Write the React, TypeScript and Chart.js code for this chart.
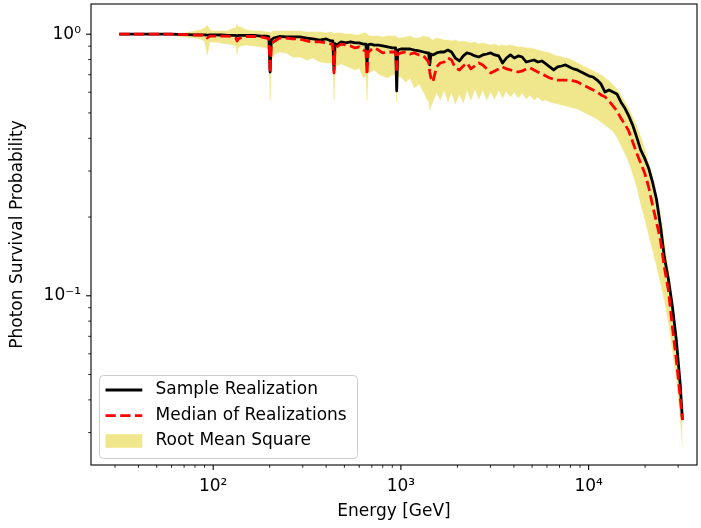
import React, { useEffect, useRef } from 'react';
import { Chart, registerables } from 'chart.js';

Chart.register(...registerables);

// Energy grid [GeV]
const energy = [
  31.6, 40, 50, 60, 70, 80, 85, 90, 93, 96,
  100, 110, 120, 128, 132, 134, 136, 140, 150, 165, 180, 192,
  198, 201, 204, 210, 225, 245, 265, 290, 315, 340, 370, 400,
  425, 434, 440, 446, 455, 480, 510, 540, 570, 600, 630, 651, 660, 669,
  690, 720, 760, 800, 850, 900, 938, 950, 962, 1000, 1060, 1120,
  1180, 1250, 1320, 1380, 1405, 1425, 1445, 1480, 1550, 1620, 1700, 1780,
  1860, 1950, 2050, 2150, 2250, 2360, 2480, 2600, 2730, 2870,
  3010, 3160, 3320, 3480, 3650, 3830, 4020, 4220, 4430, 4650,
  4880, 5120, 5370, 5640, 5920, 6210, 6520, 6840, 7180, 7540,
  7910, 8300, 8710, 9140, 9590, 10070, 10570, 11100, 11650, 12230,
  12840, 13480, 14150, 14850, 15590, 16370, 17180, 18040, 18940, 19880,
  20870, 21910, 23000, 24150, 25350, 26610, 27940, 29330, 30790, 31620,
];

const sampleRealization = [
  1.0, 1.0, 1.0, 1.0, 0.997, 0.995, 0.995, 0.995, 0.992, 0.995,
  0.995, 0.993, 0.99, 0.99, 0.99, 0.984, 0.99, 0.99, 0.99, 0.99, 0.984, 0.984,
  0.98, 0.717, 0.95, 0.967, 0.98, 0.976, 0.976, 0.976, 0.967, 0.959, 0.95, 0.959,
  0.942, 0.942, 0.73, 0.92, 0.909, 0.934, 0.926, 0.934, 0.926, 0.926, 0.917, 0.917, 0.763, 0.91,
  0.917, 0.909, 0.909, 0.902, 0.894, 0.886, 0.886, 0.607, 0.87, 0.878, 0.878, 0.878,
  0.87, 0.863, 0.855, 0.848, 0.848, 0.763, 0.84, 0.833, 0.848, 0.855, 0.855, 0.87,
  0.855, 0.811, 0.79, 0.826, 0.848, 0.84, 0.826, 0.818, 0.833, 0.84,
  0.848, 0.833, 0.826, 0.776, 0.811, 0.833, 0.811, 0.826, 0.818, 0.783,
  0.79, 0.797, 0.783, 0.79, 0.77, 0.75, 0.73, 0.75, 0.756, 0.763,
  0.75, 0.737, 0.73, 0.717, 0.705, 0.692, 0.686, 0.668, 0.645, 0.601,
  0.612, 0.601, 0.591, 0.551, 0.522, 0.487, 0.449, 0.404, 0.361, 0.336,
  0.308, 0.272, 0.234, 0.185, 0.14, 0.116, 0.0913, 0.0678, 0.0456, 0.0335,
];

const medianRealizations = [
  1.0, 1.0, 1.0, 1.0, 0.997, 0.993, 0.993, 0.99, 0.967, 0.984,
  0.984, 0.984, 0.984, 0.976, 0.967, 0.942, 0.96, 0.967, 0.98, 0.98, 0.976, 0.967,
  0.96, 0.711, 0.92, 0.934, 0.967, 0.967, 0.959, 0.959, 0.942, 0.934, 0.934, 0.926,
  0.917, 0.917, 0.711, 0.88, 0.894, 0.917, 0.909, 0.902, 0.886, 0.894, 0.87, 0.86, 0.699, 0.85,
  0.87, 0.886, 0.87, 0.848, 0.855, 0.855, 0.855, 0.711, 0.84, 0.848, 0.855, 0.84,
  0.848, 0.833, 0.826, 0.797, 0.78, 0.717, 0.68, 0.657, 0.75, 0.776, 0.783, 0.811,
  0.797, 0.743, 0.73, 0.756, 0.776, 0.737, 0.756, 0.776, 0.763, 0.737,
  0.711, 0.724, 0.737, 0.75, 0.737, 0.73, 0.724, 0.717, 0.724, 0.737,
  0.743, 0.73, 0.717, 0.705, 0.692, 0.68, 0.674, 0.668, 0.668, 0.668,
  0.668, 0.663, 0.657, 0.645, 0.634, 0.623, 0.612, 0.601, 0.586, 0.576,
  0.556, 0.532, 0.509, 0.478, 0.453, 0.426, 0.387, 0.351, 0.322, 0.295,
  0.261, 0.222, 0.191, 0.163, 0.128, 0.105, 0.076, 0.0568, 0.0407, 0.0335,
];

const rmsUpper = [
  1.0, 1.0, 1.002, 1.006, 1.011, 1.029, 1.038, 1.056, 1.084, 1.038,
  1.029, 1.029, 1.029, 1.056, 1.056, 1.094, 1.065, 1.065, 1.038, 1.029, 1.029, 1.02,
  1.02, 1.011, 1.02, 1.029, 1.029, 1.029, 1.029, 1.029, 1.02, 1.02, 1.02, 1.011,
  1.02, 1.011, 1.002, 1.011, 1.011, 1.011, 1.002, 1.002, 0.993, 0.993, 1.011, 1.011, 1.002, 0.99,
  0.984, 0.984, 0.984, 0.976, 0.984, 0.984, 0.984, 0.976, 0.967, 0.967, 0.976, 0.984,
  0.967, 0.967, 0.984, 0.976, 0.976, 0.967, 0.959, 0.95, 0.967, 0.959, 0.95, 0.95,
  0.942, 0.95, 0.934, 0.942, 0.934, 0.926, 0.934, 0.917, 0.926, 0.917,
  0.909, 0.917, 0.902, 0.909, 0.902, 0.909, 0.902, 0.894, 0.894, 0.886,
  0.886, 0.878, 0.87, 0.863, 0.855, 0.848, 0.833, 0.826, 0.818, 0.811,
  0.804, 0.79, 0.776, 0.763, 0.75, 0.737, 0.724, 0.711, 0.699, 0.68,
  0.663, 0.64, 0.618, 0.586, 0.551, 0.518, 0.482, 0.445, 0.405, 0.367,
  0.322, 0.282, 0.243, 0.204, 0.159, 0.1255, 0.0964, 0.0708, 0.0477, 0.0356,
];

const rmsLower = [
  1.0, 1.0, 0.996, 0.99, 0.976, 0.967, 0.959, 0.942, 0.833, 0.934,
  0.934, 0.926, 0.917, 0.909, 0.9, 0.84, 0.89, 0.902, 0.909, 0.902, 0.894, 0.886,
  0.87, 0.56, 0.8, 0.833, 0.855, 0.848, 0.818, 0.818, 0.797, 0.811, 0.783, 0.776,
  0.776, 0.776, 0.56, 0.75, 0.756, 0.77, 0.756, 0.743, 0.73, 0.743, 0.68, 0.7, 0.56, 0.72,
  0.717, 0.73, 0.705, 0.692, 0.68, 0.699, 0.699, 0.551, 0.686, 0.686, 0.657, 0.68,
  0.623, 0.645, 0.601, 0.56, 0.56, 0.513, 0.53, 0.551, 0.601, 0.56, 0.612, 0.551,
  0.601, 0.541, 0.591, 0.546, 0.612, 0.56, 0.618, 0.565, 0.612, 0.56,
  0.601, 0.565, 0.612, 0.57, 0.607, 0.576, 0.601, 0.57, 0.596, 0.565,
  0.586, 0.56, 0.576, 0.556, 0.56, 0.551, 0.546, 0.541, 0.536, 0.532,
  0.527, 0.522, 0.518, 0.509, 0.5, 0.491, 0.482, 0.474, 0.461, 0.449,
  0.438, 0.426, 0.404, 0.377, 0.351, 0.325, 0.293, 0.261, 0.226, 0.198,
  0.172, 0.15, 0.13, 0.112, 0.0964, 0.0794, 0.0621, 0.0484, 0.034, 0.0264,
];

const xMajorTicks = [100, 1000, 10000];
const xMajorLabels = ['10²', '10³', '10⁴'];
const xMinorTicks = [30, 40, 50, 60, 70, 80, 90, 200, 300, 400, 500, 600, 700, 800, 900,
  2000, 3000, 4000, 5000, 6000, 7000, 8000, 9000, 20000, 30000];
const yMajorTicks = [0.1, 1];
const yMajorLabels = ['10⁻¹', '10⁰'];
const yMinorTicks = [0.03, 0.04, 0.05, 0.06, 0.07, 0.08, 0.09, 0.2, 0.3, 0.4, 0.5, 0.6, 0.7, 0.8, 0.9];

const legendLabels = ['Sample Realization', 'Median of Realizations', 'Root Mean Square'];
const xTitle = 'Energy [GeV]';
const yTitle = 'Photon Survival Probability';

const X_MIN = 22.34;
const X_MAX = 37800;
const Y_MIN = 0.02255;
const Y_MAX = 1.3046;

const FONT_FAMILY = '"DejaVu Sans", sans-serif';
const FONT_SIZE = 17;
const KHAKI = '#f0e68c';
const LW = 2.78;
const DASH = [10.3, 4.4];

const sameLog = (a: number, b: number) => Math.abs(Math.log10(a) - Math.log10(b)) < 1e-6;

const axisDecor = {
  id: 'axisDecor',
  afterDraw(chart: any) {
    const { ctx, chartArea: a, scales } = chart;
    const xs = scales.x;
    const ys = scales.y;
    ctx.save();
    ctx.strokeStyle = '#000';
    const seg = (x1: number, y1: number, x2: number, y2: number, w: number) => {
      ctx.lineWidth = w;
      ctx.beginPath();
      ctx.moveTo(x1, y1);
      ctx.lineTo(x2, y2);
      ctx.stroke();
    };
    xMajorTicks.forEach((v) => { const p = xs.getPixelForValue(v); seg(p, a.bottom, p, a.bottom + 4.9, 1.1); });
    xMinorTicks.forEach((v) => { const p = xs.getPixelForValue(v); seg(p, a.bottom, p, a.bottom + 2.8, 0.85); });
    yMajorTicks.forEach((v) => { const p = ys.getPixelForValue(v); seg(a.left, p, a.left - 4.9, p, 1.1); });
    yMinorTicks.forEach((v) => { const p = ys.getPixelForValue(v); seg(a.left, p, a.left - 2.8, p, 0.85); });
    ctx.lineWidth = 1.1;
    ctx.strokeRect(a.left, a.top, a.right - a.left, a.bottom - a.top);
    ctx.restore();
  },
};

const legendBox = {
  id: 'legendBox',
  afterDraw(chart: any) {
    const ctx = chart.ctx;
    ctx.save();
    const x0 = 99.5, y0 = 375.5, w = 258, h = 83, r = 4;
    ctx.beginPath();
    ctx.moveTo(x0 + r, y0);
    ctx.lineTo(x0 + w - r, y0);
    ctx.arcTo(x0 + w, y0, x0 + w, y0 + r, r);
    ctx.lineTo(x0 + w, y0 + h - r);
    ctx.arcTo(x0 + w, y0 + h, x0 + w - r, y0 + h, r);
    ctx.lineTo(x0 + r, y0 + h);
    ctx.arcTo(x0, y0 + h, x0, y0 + h - r, r);
    ctx.lineTo(x0, y0 + r);
    ctx.arcTo(x0, y0, x0 + r, y0, r);
    ctx.closePath();
    ctx.fillStyle = 'rgba(255,255,255,0.8)';
    ctx.fill();
    ctx.strokeStyle = '#cccccc';
    ctx.lineWidth = 1;
    ctx.stroke();

    const hx0 = 105.5, hx1 = 142.3, tx = 155.5;
    const rows = [390, 415.6, 441];
    ctx.strokeStyle = '#000';
    ctx.lineWidth = LW;
    ctx.setLineDash([]);
    ctx.beginPath(); ctx.moveTo(hx0, rows[0]); ctx.lineTo(hx1, rows[0]); ctx.stroke();
    ctx.strokeStyle = '#ff0000';
    ctx.setLineDash(DASH);
    ctx.beginPath(); ctx.moveTo(hx0, rows[1]); ctx.lineTo(hx1, rows[1]); ctx.stroke();
    ctx.setLineDash([]);
    ctx.fillStyle = KHAKI;
    ctx.fillRect(hx0, rows[2] - 6.8, hx1 - hx0, 13.6);

    ctx.fillStyle = '#000';
    ctx.font = `${FONT_SIZE}px ${FONT_FAMILY}`;
    ctx.textBaseline = 'middle';
    ctx.textAlign = 'left';
    legendLabels.forEach((t, i) => ctx.fillText(t, tx, rows[i]));
    ctx.restore();
  },
};

const zeroPad = (s: any) => {
  s.paddingTop = 0;
  s.paddingBottom = 0;
  s.paddingLeft = 0;
  s.paddingRight = 0;
};

export default function App() {
  const ref = useRef<HTMLCanvasElement | null>(null);

  useEffect(() => {
    document.body.style.margin = '0';
    const canvas = ref.current;
    if (!canvas) return;
    const pts = (ys: number[]) => energy.map((x, i) => ({ x, y: ys[i] }));
    const font = { family: FONT_FAMILY, size: FONT_SIZE };

    const chart = new Chart(canvas, {
      type: 'line',
      data: {
        datasets: [
          {
            label: legendLabels[1],
            data: pts(medianRealizations),
            borderColor: '#ff0000',
            borderWidth: LW,
            borderDash: DASH,
            borderCapStyle: 'butt',
            borderJoinStyle: 'round',
            pointRadius: 0,
            fill: false,
          },
          {
            label: legendLabels[0],
            data: pts(sampleRealization),
            borderColor: '#000000',
            borderWidth: LW,
            borderJoinStyle: 'round',
            borderCapStyle: 'butt',
            pointRadius: 0,
            fill: false,
          },
          {
            label: legendLabels[2],
            data: pts(rmsUpper),
            borderColor: KHAKI,
            borderWidth: 0.5,
            backgroundColor: KHAKI,
            pointRadius: 0,
            fill: '+1',
          },
          {
            label: 'rms lower',
            data: pts(rmsLower),
            borderColor: KHAKI,
            borderWidth: 0.5,
            backgroundColor: KHAKI,
            pointRadius: 0,
            fill: false,
          },
        ],
      },
      options: {
        responsive: false,
        animation: false,
        devicePixelRatio: 1,
        events: [],
        layout: { padding: { left: 0, top: 4, right: 4, bottom: 0 }, autoPadding: false },
        elements: { line: { tension: 0 }, point: { radius: 0 } },
        plugins: {
          legend: { display: false },
          tooltip: { enabled: false },
          title: { display: false },
        },
        scales: {
          x: {
            type: 'logarithmic',
            position: 'bottom',
            min: X_MIN,
            max: X_MAX,
            afterBuildTicks: (s: any) => { s.ticks = xMajorTicks.map((v) => ({ value: v })); },
            afterFit: (s: any) => { s.height = 63; zeroPad(s); },
            ticks: {
              autoSkip: false,
              maxRotation: 0,
              minRotation: 0,
              padding: 6.5,
              color: '#000',
              font,
              callback: (v: any) => {
                const i = xMajorTicks.findIndex((t) => sameLog(t, Number(v)));
                return i >= 0 ? xMajorLabels[i] : '';
              },
            },
            grid: { display: false, drawTicks: true, tickLength: 5 },
            border: { display: false },
            title: { display: true, text: xTitle, color: '#000', font, padding: { top: 0, bottom: 6 } },
          },
          y: {
            type: 'logarithmic',
            position: 'left',
            min: Y_MIN,
            max: Y_MAX,
            afterBuildTicks: (s: any) => { s.ticks = yMajorTicks.map((v) => ({ value: v })); },
            afterFit: (s: any) => { s.width = 91; zeroPad(s); },
            ticks: {
              autoSkip: false,
              padding: 5,
              color: '#000',
              font,
              callback: (v: any) => {
                const i = yMajorTicks.findIndex((t) => sameLog(t, Number(v)));
                return i >= 0 ? yMajorLabels[i] : '';
              },
            },
            grid: { display: false, drawTicks: true, tickLength: 5 },
            border: { display: false },
            title: { display: true, text: yTitle, color: '#000', font, padding: { top: 7.5, bottom: 0 } },
          },
        },
      },
      plugins: [axisDecor, legendBox],
    } as any);

    return () => chart.destroy();
  }, []);

  return (
    <canvas
      ref={ref}
      width={701}
      height={528}
      style={{ position: 'fixed', left: 0, top: 0, width: 701, height: 528, display: 'block' }}
    />
  );
}
